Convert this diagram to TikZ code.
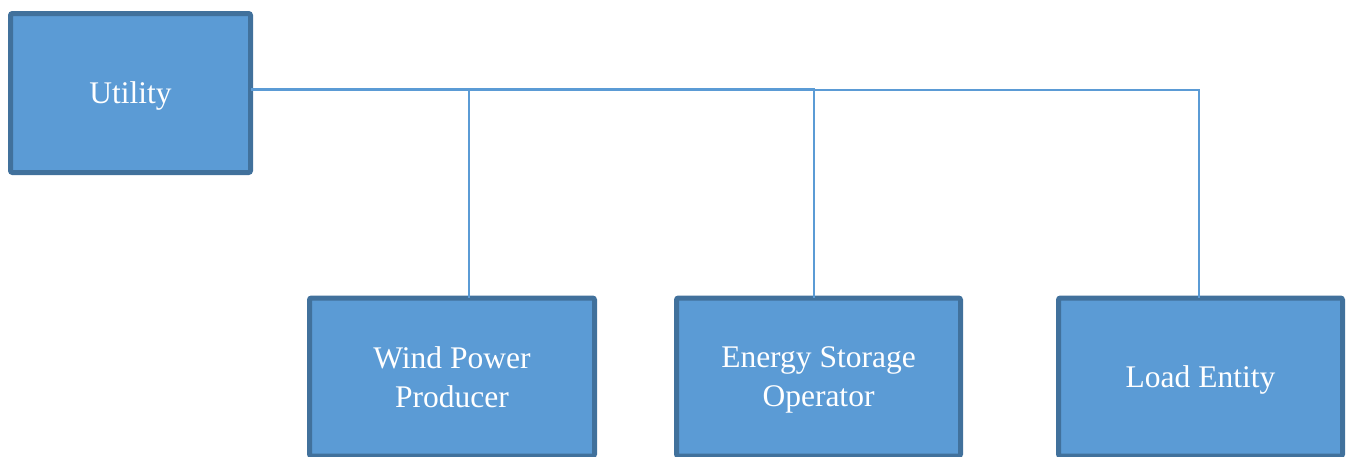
\documentclass[tikz,border=0pt]{standalone}
\usepackage{fontspec}
\setmainfont{Liberation Serif}
\definecolor{boxfill}{HTML}{5B9BD5}
\definecolor{boxline}{HTML}{41719C}
\definecolor{conn}{HTML}{5B9BD5}
\begin{document}
\begin{tikzpicture}[x=1pt,y=-1pt,
  entity/.style={draw=boxline,fill=boxfill,line width=5pt,rounded corners=2pt,
    text=white,align=center,inner sep=0pt,outer sep=0pt,text depth=0pt,
    font=\fontsize{31.5}{39}\selectfont},
  link/.style={draw=conn,line width=2pt}]
\useasboundingbox (0,0) rectangle (1351,456);
\node[entity,minimum width=240pt,minimum height=159pt] (U) at (130.5,93) {Utility};
\node[entity,minimum width=285pt,minimum height=158pt] (W) at (452,377) {Wind Power\\Producer};
\node[entity,minimum width=284pt,minimum height=158pt] (E) at (818.5,377) {Energy Storage\\Operator};
\node[entity,minimum width=284pt,minimum height=158pt] (L) at (1200.5,377) {Load Entity};
\draw[link] ([yshift=3]U.east) -| ([xshift=17]W.north);
\draw[link] ([yshift=4]U.east) -| ([xshift=-4.5]E.north);
\draw[link] ([yshift=3]U.east) -| ([xshift=-1.5]L.north);
\end{tikzpicture}
\end{document}
